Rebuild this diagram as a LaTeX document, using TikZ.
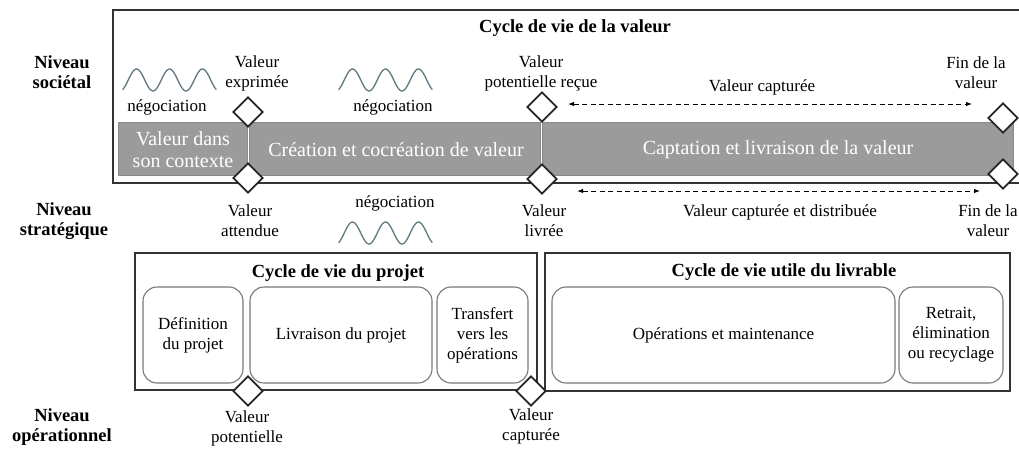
\documentclass[tikz,border=0pt]{standalone}
\usepackage{fontspec}
\setmainfont{Liberation Serif}
\usetikzlibrary{shapes.geometric,arrows.meta}

\definecolor{barfill}{HTML}{9B9B9B}
\definecolor{barline}{HTML}{8A8A8A}
\definecolor{wavecol}{HTML}{5F7780}
\definecolor{frame}{HTML}{333333}
\definecolor{phase}{HTML}{777777}

\tikzset{
  lbl/.style={font=\fontsize{17}{20}\selectfont, align=center, inner sep=0pt},
  lvl/.style={font=\bfseries\fontsize{18.5}{20}\selectfont, align=center, inner sep=0pt},
  ttl/.style={font=\bfseries\fontsize{18.5}{20}\selectfont, inner sep=0pt},
  bartxt/.style={font=\fontsize{20}{22}\selectfont, text=white, align=center, inner sep=0pt},
  barseg/.style={fill=barfill, draw=barline, line width=1pt},
  frm/.style={draw=frame, line width=2.5pt},
  phasebox/.style={draw=phase, line width=1.1pt, rounded corners=14pt, align=center,
    font=\fontsize{17}{20}\selectfont, inner sep=0pt},
  milestone/.style={diamond, draw=black!85, fill=white, line width=1.7pt,
    minimum width=30pt, minimum height=30pt, inner sep=0pt},
  wave/.style={draw=wavecol, line width=1.3pt},
  span/.style={dashed, dash pattern=on 5pt off 3.5pt, line width=1pt,
    {Latex[length=6pt,width=4.5pt]}-{Latex[length=6pt,width=4.5pt]}},
}

\begin{document}
\begin{tikzpicture}[x=1pt, y=-1pt]
\useasboundingbox (0,0) rectangle (1019,451);

% ---- value life cycle frame ----
\draw[frm] (113,10) rectangle (1021,183);
\node[ttl] (tV) at (575,28) {Cycle de vie de la valeur};

% phase bar
\draw[barseg] (118,122) rectangle (247,175);
\draw[barseg] (249.5,122) rectangle (540,175);
\draw[barseg] (542.5,122) rectangle (1013,175);
\node[bartxt] (bCtx) at (183,150) {Valeur dans\\son contexte};
\node[bartxt] (bCre) at (396,150) {Création et cocréation de valeur};
\node[bartxt] (bCap) at (778,150) {Captation et livraison de la valeur};

% negotiation waves
\draw[wave] plot[domain=0.08:2.92, samples=80, smooth] ({120+33*\x}, {80+11*cos(360*\x)});
\draw[wave] plot[domain=0.08:2.92, samples=80, smooth] ({336+33*\x}, {80+11*cos(360*\x)});
\draw[wave] plot[domain=0.08:2.92, samples=80, smooth] ({336+33*\x}, {233+11*cos(360*\x)});

\node[lbl] (n1) at (167,107) {négociation};
\node[lbl] (n2) at (393,107) {négociation};
\node[lbl] (n3) at (395,203) {négociation};

% level labels
\node[lvl] (lS) at (62,72) {Niveau\\sociétal};
\node[lvl] (lT) at (64,221) {Niveau\\stratégique};
\node[lvl] (lO) at (62,427) {Niveau\\opérationnel};

% milestone labels
\node[lbl] (vExp) at (257,73) {Valeur\\exprimée};
\node[lbl] (vPot) at (541,73) {Valeur\\potentielle reçue};
\node[lbl] (vCap) at (762,87) {Valeur capturée};
\node[lbl] (fin1) at (976,73) {Fin de la\\valeur};
\node[lbl] (vAtt) at (250,221) {Valeur\\attendue};
\node[lbl] (vLiv) at (544,221) {Valeur\\livrée};
\node[lbl] (vDis) at (780,212) {Valeur capturée et distribuée};
\node[lbl] (fin2) at (988,221) {Fin de la\\valeur};

% ---- project and deliverable frames ----
\draw[frm] (135,253) rectangle (537,390);
\draw[frm] (545,253) rectangle (1010,391);
\node[ttl] (tP) at (338,273) {Cycle de vie du projet};
\node[ttl] (tL) at (784,272) {Cycle de vie utile du livrable};

\node[phasebox, minimum width=100pt, minimum height=96pt] (def) at (193,335) {Définition\\du projet};
\node[phasebox, minimum width=182pt, minimum height=96pt] (liv) at (341,335) {Livraison du projet};
\node[phasebox, minimum width=91pt, minimum height=96pt] (tra) at (482.5,335) {Transfert\\vers les\\opérations};
\node[phasebox, minimum width=343pt, minimum height=96pt] (ops) at (723.5,335) {Opérations et maintenance};
\node[phasebox, minimum width=104pt, minimum height=96pt] (ret) at (951,335) {Retrait,\\élimination\\ou recyclage};

\node[lbl] (vPtl) at (247,428) {Valeur\\potentielle};
\node[lbl] (vCpt) at (531,426) {Valeur\\capturée};

% ---- milestones ----
\node[milestone] (dE) at (248,112) {};
\node[milestone] (dA) at (248,178) {};
\node[milestone] (dP) at (542,107) {};
\node[milestone] (dL) at (542,179) {};
\node[milestone] (dF1) at (1003,118) {};
\node[milestone] (dF2) at (1003,174) {};
\node[milestone] (dV) at (248,391) {};
\node[milestone] (dC) at (531,391) {};

% ---- captured value spans ----
\coordinate (c1L) at (568,104);
\coordinate (c1R) at (972,104);
\coordinate (c2L) at (577,191);
\coordinate (c2R) at (980,191);
\draw[span] (c1L) -- (c1R);
\draw[span] (c2L) -- (c2R);
\end{tikzpicture}
\end{document}
